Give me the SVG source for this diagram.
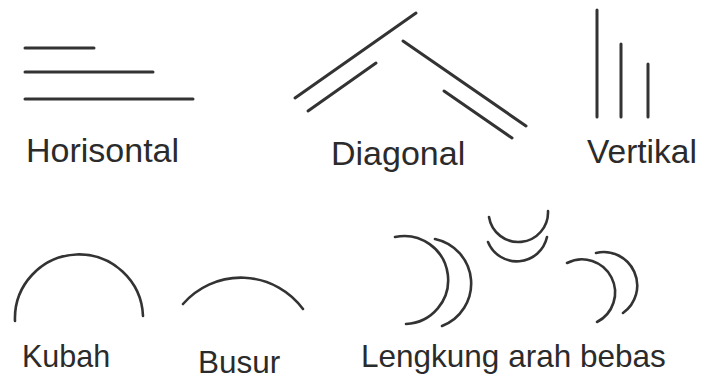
<svg xmlns="http://www.w3.org/2000/svg" width="706" height="379" viewBox="0 0 706 379">
  <style>
    .ln { stroke: #333; stroke-width: 3; stroke-linecap: round; fill: none; }
    .arc { stroke: #333; stroke-width: 2.6; stroke-linecap: round; fill: none; }
    .lbl { font-family: "Liberation Sans", Arial, Helvetica, sans-serif; fill: #2b2b2b; }
  </style>
  <rect width="706" height="379" fill="#ffffff"/>
  <g id="horisontal">
    <line class="ln" x1="25" y1="48" x2="94" y2="48"/>
    <line class="ln" x1="25" y1="72" x2="153" y2="72"/>
    <line class="ln" x1="25" y1="99" x2="193" y2="99"/>
    <text class="lbl" x="26" y="162" font-size="34">Horisontal</text>
  </g>
  <g id="diagonal">
    <line class="ln" x1="295" y1="98" x2="416" y2="13"/>
    <line class="ln" x1="308" y1="111" x2="376" y2="63"/>
    <line class="ln" x1="403" y1="41" x2="526" y2="126"/>
    <line class="ln" x1="444" y1="91" x2="512" y2="138"/>
    <text class="lbl" x="331" y="165" font-size="34">Diagonal</text>
  </g>
  <g id="vertikal">
    <line class="ln" x1="597" y1="10" x2="597" y2="117"/>
    <line class="ln" x1="621" y1="44" x2="621" y2="117"/>
    <line class="ln" x1="648" y1="64" x2="648" y2="117"/>
    <text class="lbl" x="587" y="163" font-size="33.5">Vertikal</text>
  </g>
  <g id="kubah">
    <path class="arc" d="M15,321 A64,64 0 1 1 143,316"/>
    <text class="lbl" x="22" y="367" font-size="30.5">Kubah</text>
  </g>
  <g id="busur">
    <path class="arc" d="M183,304 A77,77 0 0 1 303,309"/>
    <text class="lbl" x="198" y="373" font-size="31.5">Busur</text>
  </g>
  <g id="lengkung">
    <path class="arc" d="M395,237 A44,44 0 1 1 406,324"/>
    <path class="arc" d="M435,239 A45.5,45.5 0 0 1 442,326"/>
    <path class="arc" d="M489,217 A29.7,29.7 0 0 0 548,211"/>
    <path class="arc" d="M488,242 A31,31 0 0 0 547,237"/>
    <path class="arc" d="M567,263 A33,33 0 0 1 597,322"/>
    <path class="arc" d="M596,253 A33.5,33.5 0 0 1 623,313"/>
    <text class="lbl" x="361" y="367" font-size="31.5">Lengkung arah bebas</text>
  </g>
</svg>
